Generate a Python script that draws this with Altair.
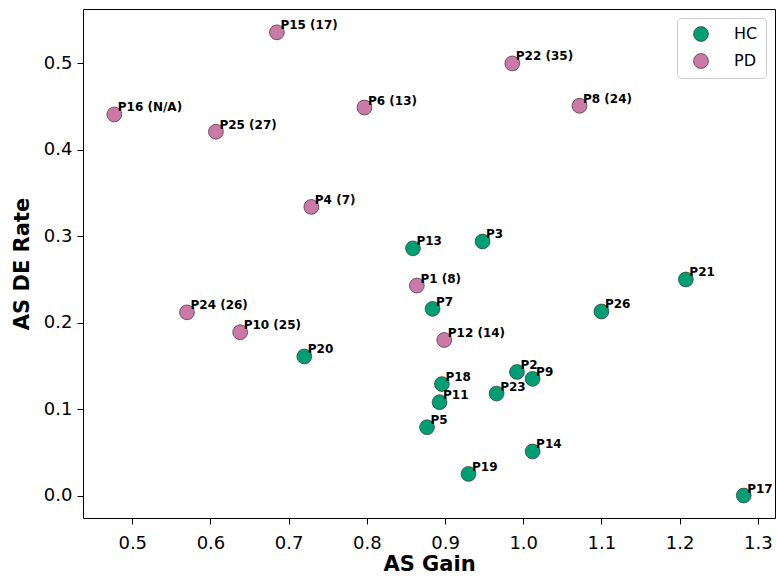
import altair as alt
import pandas as pd

labels = ["P13", "P3", "P7", "P21", "P26", "P20", "P2", "P9", "P18", "P11",
          "P23", "P5", "P14", "P19", "P17",
          "P15 (17)", "P16 (N/A)", "P25 (27)", "P6 (13)", "P4 (7)", "P22 (35)",
          "P8 (24)", "P1 (8)", "P12 (14)", "P24 (26)", "P10 (25)"]
groups = ["HC"] * 15 + ["PD"] * 11
as_gain = [0.859, 0.948, 0.884, 1.208, 1.100, 0.720, 0.992, 1.012, 0.896, 0.893,
           0.966, 0.877, 1.012, 0.930, 1.282,
           0.685, 0.477, 0.607, 0.797, 0.729, 0.986,
           1.072, 0.864, 0.899, 0.570, 0.638]
as_de_rate = [0.286, 0.294, 0.216, 0.250, 0.213, 0.161, 0.143, 0.135, 0.129, 0.108,
              0.118, 0.079, 0.051, 0.025, 0.000,
              0.536, 0.441, 0.421, 0.449, 0.334, 0.500,
              0.451, 0.243, 0.180, 0.212, 0.189]

df = pd.DataFrame({"label": labels, "group": groups, "gain": as_gain, "rate": as_de_rate})

FONT = "DejaVu Sans"

x = alt.X("gain:Q", title="AS Gain",
          scale=alt.Scale(domain=[0.437, 1.322], nice=False, zero=False),
          axis=alt.Axis(values=[0.5, 0.6, 0.7, 0.8, 0.9, 1.0, 1.1, 1.2, 1.3], format=".1f"))
y = alt.Y("rate:Q", title="AS DE Rate",
          scale=alt.Scale(domain=[-0.026, 0.563], nice=False, zero=False),
          axis=alt.Axis(values=[0.0, 0.1, 0.2, 0.3, 0.4, 0.5], format=".1f"))

points = alt.Chart(df).mark_circle(size=220, opacity=1, stroke="#333333", strokeWidth=0.7).encode(
    x=x, y=y,
    color=alt.Color("group:N", title=None,
                    scale=alt.Scale(domain=["HC", "PD"], range=["#009E73", "#CC79A7"]),
                    legend=alt.Legend(orient="none", legendX=594, legendY=9)),
)

texts = alt.Chart(df).mark_text(align="left", baseline="alphabetic", dx=3.5, dy=-3,
                                font=FONT, fontWeight="bold", fontSize=12, color="black").encode(
    x=x, y=y, text="label:N"
)

chart = alt.layer(points, texts).properties(
    width=692, height=509,
    autosize=alt.AutoSizeParams(type="none"),
    padding={"left": 83, "top": 9, "right": 1, "bottom": 58},
).configure_view(
    stroke="black", strokeWidth=1
).configure_axis(
    grid=False, domain=False, ticks=True, tickColor="black", tickSize=6, tickWidth=1,
    labelFont=FONT, labelFontSize=18, labelColor="black",
    titleFont=FONT, titleFontSize=21, titleFontWeight="bold", titleColor="black",
).configure_axisX(labelPadding=10, titlePadding=1).configure_axisY(labelPadding=5, titlePadding=11).configure_legend(
    fillColor="white", strokeColor="#cccccc", cornerRadius=4, padding=8,
    symbolSize=220, symbolStrokeColor="#333333", symbolStrokeWidth=0.7, symbolOpacity=1,
    labelFont=FONT, labelFontSize=16, labelColor="black", labelOffset=25,
    rowPadding=9, symbolOffset=8,
)

chart.save("out.html", embed_options={"renderer": "svg", "actions": False})
